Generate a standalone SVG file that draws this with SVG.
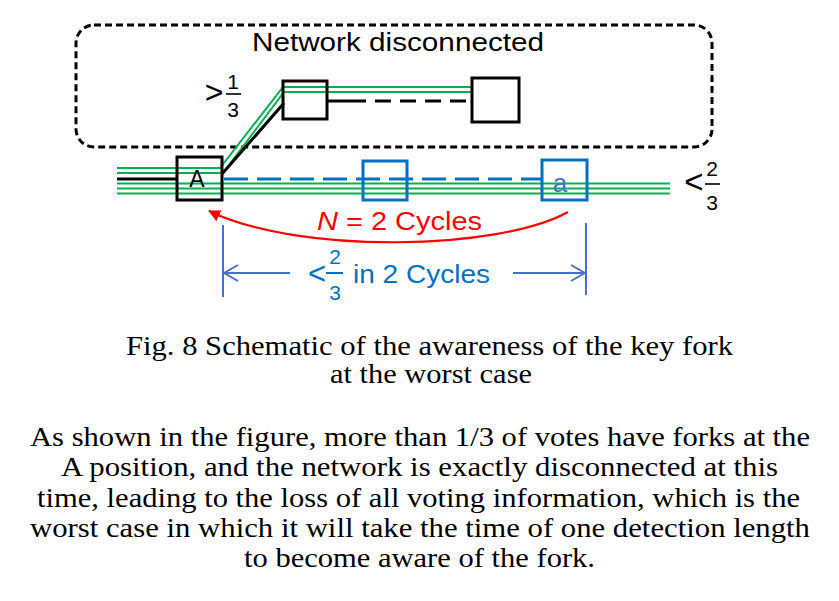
<svg xmlns="http://www.w3.org/2000/svg" width="839" height="601" viewBox="0 0 839 601">
<defs>
<style>
.sans{font-family:"Liberation Sans","DejaVu Sans",sans-serif}
.serif{font-family:"Liberation Serif","Times New Roman",Times,serif;font-size:28px;fill:#000;text-anchor:middle}
.g{stroke:#00B050;stroke-width:2;fill:none}
.bx{fill:none;stroke:#000;stroke-width:3}
.bb{fill:none;stroke:#0070C0;stroke-width:3}
.lb{stroke:#4472C4;stroke-width:2;fill:none}
</style>
<marker id="redhead" markerWidth="12" markerHeight="12" refX="11" refY="6" orient="auto" markerUnits="userSpaceOnUse" viewBox="0 0 12 12">
<path d="M0,0 L12,6 L0,12 Z" fill="#FF0000"/>
</marker>
<marker id="openhead" markerWidth="16" markerHeight="18" refX="15" refY="9" orient="auto" markerUnits="userSpaceOnUse" viewBox="0 0 16 18">
<path d="M1,1 L15,9 L1,17" fill="none" stroke="#4472C4" stroke-width="2"/>
</marker>
</defs>
<rect width="839" height="601" fill="#fff"/>

<g id="network-region">
<rect x="76" y="25" width="636" height="122" rx="18" ry="18" fill="none" stroke="#000" stroke-width="3" stroke-dasharray="7 4"/>
<text x="398" y="51" class="sans" font-size="26" text-anchor="middle" textLength="292" lengthAdjust="spacingAndGlyphs">Network disconnected</text>
</g>

<g id="connectors">
<polyline class="g" points="117,168 220,168 283,87 472,87"/>
<polyline class="g" points="117,173 223,173 284,92 472,92"/>
<polyline points="117,179 177,179" fill="none" stroke="#000" stroke-width="3"/>
<line x1="222" y1="174" x2="284" y2="103" stroke="#000" stroke-width="3"/>
<line x1="327" y1="101" x2="350" y2="101" stroke="#000" stroke-width="3"/>
<line x1="350" y1="101" x2="472" y2="101" stroke="#000" stroke-width="3" stroke-dasharray="16 9"/>
<line x1="224" y1="179" x2="542" y2="179" stroke="#0070C0" stroke-width="3" stroke-dasharray="24 9"/>
<line class="g" x1="117" y1="183.5" x2="670" y2="183.5"/>
<line class="g" x1="117" y1="188.5" x2="670" y2="188.5"/>
<line class="g" x1="117" y1="193.5" x2="670" y2="193.5"/>
<path d="M568,212 C500,250 300,255 209,211" fill="none" stroke="#FF0000" stroke-width="2.2" marker-end="url(#redhead)"/>
<line class="lb" x1="223" y1="225" x2="223" y2="297"/>
<line class="lb" x1="586" y1="223" x2="586" y2="295"/>
<line class="lb" x1="290" y1="273" x2="224" y2="273" marker-end="url(#openhead)"/>
<line class="lb" x1="513" y1="273" x2="585" y2="273" marker-end="url(#openhead)"/>
</g>

<g id="node-A">
<rect x="177" y="157" width="45" height="43" class="bx"/>
<text x="197" y="187" class="sans" font-size="23" text-anchor="middle" fill="#000">A</text>
</g>
<g id="node-top1">
<rect x="283" y="81" width="44" height="38" class="bx"/>
</g>
<g id="node-top2">
<rect x="472" y="78" width="47" height="44" class="bx"/>
</g>
<g id="node-blue1">
<rect x="363" y="161" width="44" height="39" class="bb"/>
</g>
<g id="node-a">
<rect x="542" y="160" width="45" height="40" class="bb"/>
<text x="560" y="192" class="sans" font-size="26" text-anchor="middle" fill="#4472C4">a</text>
</g>

<g id="label-gt13">
<text x="214" y="103" class="sans" font-size="32" text-anchor="middle" fill="#000">&gt;</text>
<text x="233" y="89" class="sans" font-size="21" text-anchor="middle" fill="#000">1</text>
<line x1="226" y1="94" x2="241" y2="94" stroke="#000" stroke-width="1.6"/>
<text x="233" y="117" class="sans" font-size="21" text-anchor="middle" fill="#000">3</text>
</g>

<g id="label-lt23">
<text x="694" y="193" class="sans" font-size="33" text-anchor="middle" fill="#000">&lt;</text>
<text x="712" y="176" class="sans" font-size="21" text-anchor="middle" fill="#000">2</text>
<line x1="705" y1="184" x2="720" y2="184" stroke="#000" stroke-width="1.6"/>
<text x="712" y="210" class="sans" font-size="21" text-anchor="middle" fill="#000">3</text>
</g>

<g id="label-N">
<text x="317" y="230" class="sans" font-size="26" fill="#FF0000" textLength="165" lengthAdjust="spacingAndGlyphs"><tspan font-style="italic">N</tspan> = 2 Cycles</text>
</g>

<g id="label-dim">
<text x="317" y="284" class="sans" font-size="31" text-anchor="middle" fill="#0070C0">&lt;</text>
<text x="335" y="264" class="sans" font-size="21" text-anchor="middle" fill="#0070C0">2</text>
<line x1="326" y1="273" x2="343" y2="273" stroke="#0070C0" stroke-width="2"/>
<text x="335" y="300" class="sans" font-size="21" text-anchor="middle" fill="#0070C0">3</text>
<text x="353" y="283" class="sans" font-size="26" fill="#0070C0" textLength="137" lengthAdjust="spacingAndGlyphs">in 2 Cycles</text>
</g>

<g id="caption">
<text x="429.5" y="355" class="serif" textLength="607" lengthAdjust="spacingAndGlyphs">Fig. 8 Schematic of the awareness of the key fork</text>
<text x="431" y="383" class="serif" textLength="202" lengthAdjust="spacingAndGlyphs">at the worst case</text>
</g>

<g id="paragraph">
<text x="420" y="446" class="serif" textLength="780" lengthAdjust="spacingAndGlyphs">As shown in the figure, more than 1/3 of votes have forks at the</text>
<text x="419.5" y="476" class="serif" textLength="717" lengthAdjust="spacingAndGlyphs">A position, and the network is exactly disconnected at this</text>
<text x="418.5" y="507" class="serif" textLength="763" lengthAdjust="spacingAndGlyphs">time, leading to the loss of all voting information, which is the</text>
<text x="420" y="537" class="serif" textLength="780" lengthAdjust="spacingAndGlyphs">worst case in which it will take the time of one detection length</text>
<text x="419.5" y="567" class="serif" textLength="351" lengthAdjust="spacingAndGlyphs">to become aware of the fork.</text>
</g>
</svg>
